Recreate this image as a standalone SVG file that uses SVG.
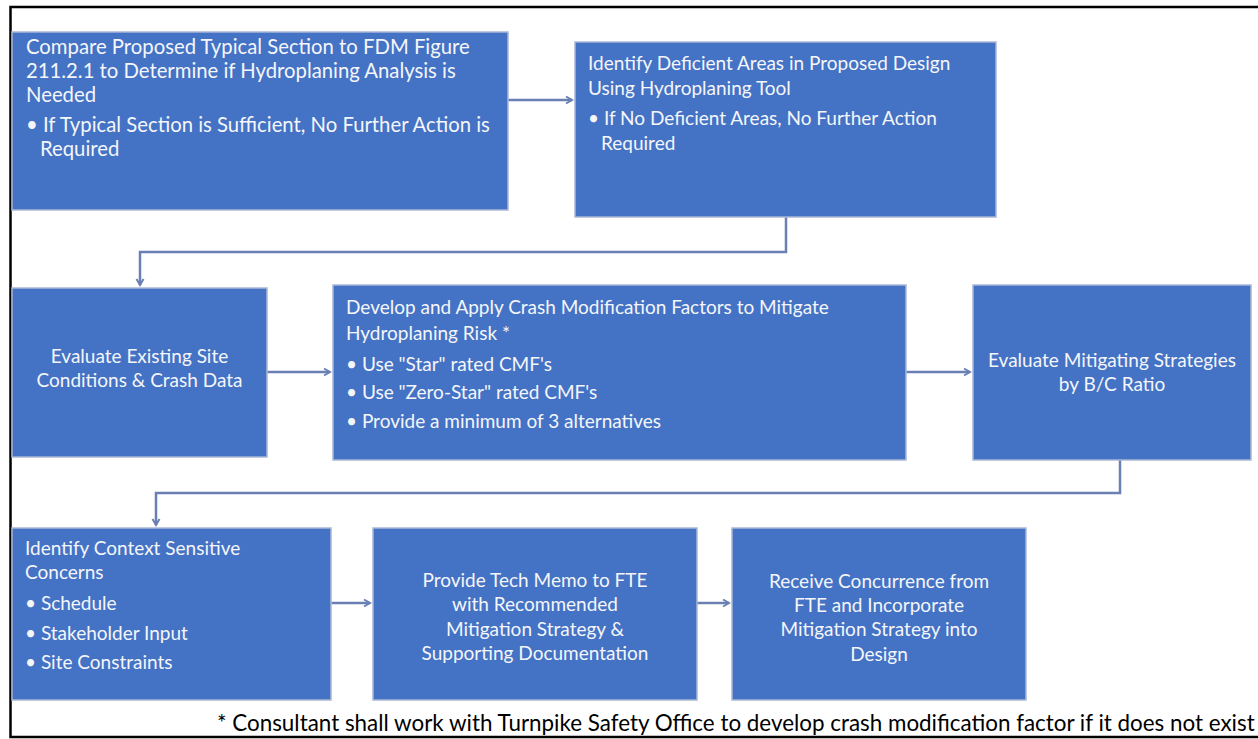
<svg xmlns="http://www.w3.org/2000/svg" width="1258" height="739" viewBox="0 0 1258 739">
<defs>
<marker id="ah" markerWidth="10" markerHeight="10" refX="7" refY="5" orient="auto" markerUnits="userSpaceOnUse">
<path d="M1,1.5 L7,5 L1,8.5" fill="none" stroke="#6A80B2" stroke-width="2"/>
</marker>
<style>
.box{fill:#4472C4;stroke:#A9B8D6;stroke-width:1.5}
.t{font-family:Lato,"Liberation Sans",sans-serif;font-size:19px;fill:#F4F6FA}
.t1{font-size:20.3px}
.c{text-anchor:middle}
.con{fill:none;stroke:#6A80B2;stroke-width:2.5}
.frame{fill:none;stroke:#000;stroke-width:2.5}
.fn{font-family:Lato,"Liberation Sans",sans-serif;font-size:22.4px;fill:#000}
</style>
</defs>
<rect width="1258" height="739" fill="#fff"/>
<path class="frame" d="M1258,7 H10.5 V737 H1258"/>

<g id="connectors">
<line class="con" x1="508" y1="100" x2="572" y2="100" marker-end="url(#ah)"/>
<polyline class="con" points="786,217 786,252 140,252 140,285" marker-end="url(#ah)"/>
<line class="con" x1="267" y1="372" x2="330" y2="372" marker-end="url(#ah)"/>
<line class="con" x1="906" y1="372" x2="970" y2="372" marker-end="url(#ah)"/>
<polyline class="con" points="1120,460 1120,493 156,493 156,525" marker-end="url(#ah)"/>
<line class="con" x1="331" y1="603" x2="370" y2="603" marker-end="url(#ah)"/>
<line class="con" x1="697" y1="603" x2="729" y2="603" marker-end="url(#ah)"/>
</g>

<g id="n1">
<rect class="box" x="12" y="32" width="496" height="178"/>
<text class="t t1" x="26" y="54">Compare Proposed Typical Section to FDM Figure</text>
<text class="t t1" x="26" y="78">211.2.1 to Determine if Hydroplaning Analysis is</text>
<text class="t t1" x="26" y="102">Needed</text>
<text class="t t1" x="26" y="132">• If Typical Section is Sufficient, No Further Action is</text>
<text class="t t1" x="40" y="156">Required</text>
</g>

<g id="n2">
<rect class="box" x="575" y="42" width="421" height="175"/>
<text class="t" x="588" y="70">Identify Deficient Areas in Proposed Design</text>
<text class="t" x="588" y="95">Using Hydroplaning Tool</text>
<text class="t" x="588" y="125">• If No Deficient Areas, No Further Action</text>
<text class="t" x="601" y="150">Required</text>
</g>

<g id="n3">
<rect class="box" x="12" y="288" width="255" height="169"/>
<text class="t c" x="139.5" y="363">Evaluate Existing Site</text>
<text class="t c" x="139.5" y="387">Conditions &amp; Crash Data</text>
</g>

<g id="n4">
<rect class="box" x="333" y="285" width="573" height="175"/>
<text class="t" x="346" y="314">Develop and Apply Crash Modification Factors to Mitigate</text>
<text class="t" x="346" y="340">Hydroplaning Risk  *</text>
<text class="t" x="346" y="371">• Use "Star" rated CMF's</text>
<text class="t" x="346" y="399">• Use "Zero-Star" rated CMF's</text>
<text class="t" x="346" y="428">• Provide a minimum of 3 alternatives</text>
</g>

<g id="n5">
<rect class="box" x="973" y="285" width="278" height="175"/>
<text class="t c" x="1112" y="367">Evaluate Mitigating Strategies</text>
<text class="t c" x="1112" y="391">by B/C Ratio</text>
</g>

<g id="n6">
<rect class="box" x="12" y="528" width="319" height="172"/>
<text class="t" x="25" y="555">Identify Context Sensitive</text>
<text class="t" x="25" y="579">Concerns</text>
<text class="t" x="25" y="610">• Schedule</text>
<text class="t" x="25" y="640">• Stakeholder Input</text>
<text class="t" x="25" y="669">• Site Constraints</text>
</g>

<g id="n7">
<rect class="box" x="373" y="528" width="324" height="172"/>
<text class="t c" x="535" y="587">Provide Tech Memo to FTE</text>
<text class="t c" x="535" y="611">with Recommended</text>
<text class="t c" x="535" y="636">Mitigation Strategy &amp;</text>
<text class="t c" x="535" y="660">Supporting Documentation</text>
</g>

<g id="n8">
<rect class="box" x="732" y="528" width="294" height="172"/>
<text class="t c" x="879" y="588">Receive Concurrence from</text>
<text class="t c" x="879" y="612">FTE and Incorporate</text>
<text class="t c" x="879" y="636">Mitigation Strategy into</text>
<text class="t c" x="879" y="661">Design</text>
</g>

<text class="fn" x="217" y="731">* Consultant shall work with Turnpike Safety Office to develop crash modification factor if it does not exist</text>
</svg>
